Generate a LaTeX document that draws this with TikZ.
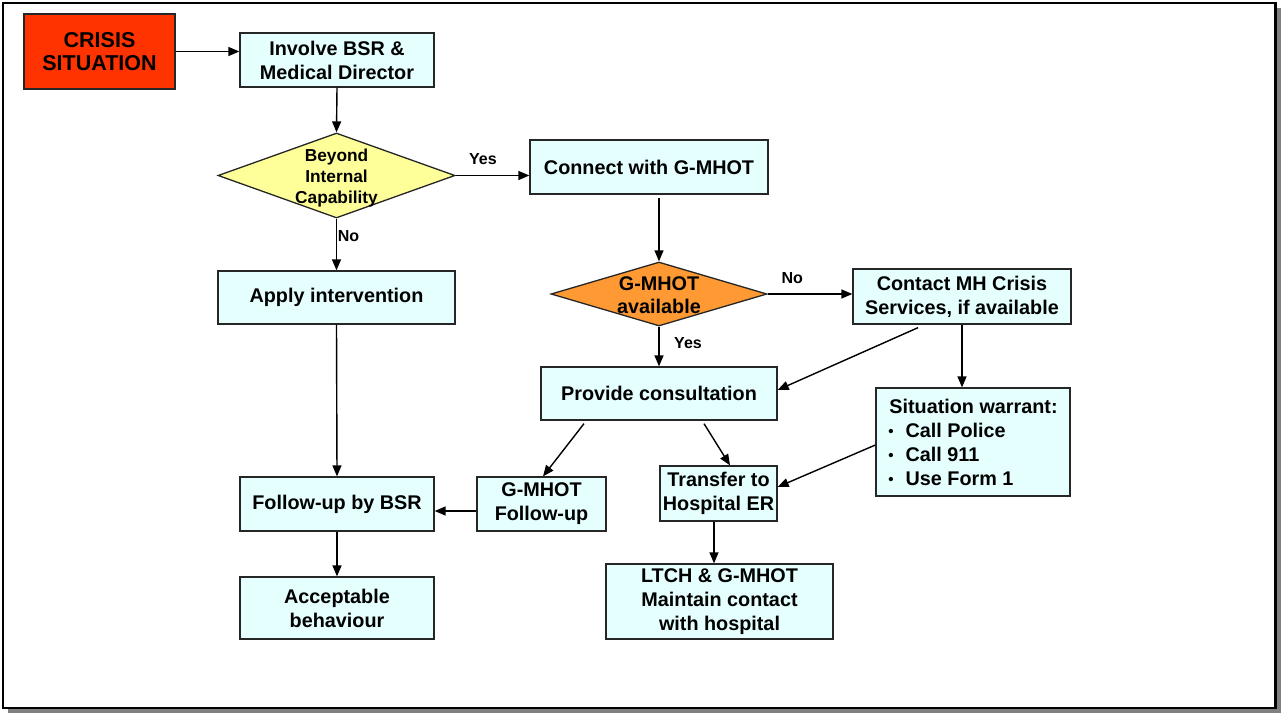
\documentclass[tikz,border=0pt]{standalone}
\usepackage{fontspec}
\setmainfont{Liberation Sans}
\usetikzlibrary{arrows.meta,shapes.geometric}
\definecolor{boxfill}{HTML}{E5FFFF}
\definecolor{crisisred}{HTML}{FF3300}
\definecolor{decyellow}{HTML}{FFFF99}
\definecolor{decorange}{HTML}{FF9933}
\definecolor{shadowgray}{HTML}{808080}
\tikzset{
  box/.style={rectangle, draw=black!85, line width=1.3pt, fill=boxfill, align=center, inner sep=0pt,
    font=\bfseries\fontsize{19.8}{24}\selectfont},
  decision/.style={diamond, draw=black!85, line width=1.3pt, inner sep=0pt},
  dtext/.style={align=center, inner sep=0pt},
  arr/.style={line width=1.4pt, -{Triangle[length=11pt,width=9pt]}},
  lbl/.style={font=\bfseries\fontsize{16}{18}\selectfont, inner sep=0pt}
}
\newcommand{\itembul}{\raisebox{0.5pt}{\fontsize{15}{15}\selectfont•}\hspace{12pt}}
\begin{document}
\begin{tikzpicture}[x=1pt,y=-1pt]
\useasboundingbox (0,0) rectangle (1281,713);
% page frame with drop shadow
\fill[shadowgray] (8,8) rectangle (1281,713);
\draw[line width=2.5pt, fill=white] (3,3) rectangle (1275.5,708);

% nodes
\node[box, fill=crisisred, minimum width=151pt, minimum height=75pt, font=\bfseries\fontsize{21.5}{23.5}\selectfont] (crisis) at (99.5,51.5) {CRISIS\\SITUATION};
\node[box, minimum width=194pt, minimum height=54pt] (involve) at (337,60) {Involve BSR \&\\Medical Director};
\node[decision, fill=decyellow, minimum width=237pt, minimum height=85pt] (beyond) at (336.5,175.5) {};
\node[dtext, font=\bfseries\fontsize{17.3}{21}\selectfont, yshift=-2.5pt] (beyondtext) at (beyond.center) {Beyond\\Internal\\Capability};
\node[box, minimum width=238pt, minimum height=54pt] (connect) at (649,167) {Connect with G-MHOT};
\node[box, minimum width=237pt, minimum height=53pt] (apply) at (336.5,297.5) {Apply intervention};
\node[decision, fill=decorange, minimum width=216pt, minimum height=64pt] (avail) at (659,294) {};
\node[dtext, font=\bfseries\fontsize{19.8}{23}\selectfont, yshift=-1.5pt] (availtext) at (avail.center) {G-MHOT\\available};
\node[box, minimum width=218pt, minimum height=55pt] (contact) at (962,296.5) {Contact MH Crisis\\Services, if available};
\node[box, minimum width=236pt, minimum height=53pt] (prov) at (659,393.5) {Provide consultation};
\node[box, minimum width=194pt, minimum height=108pt, align=left, font=\bfseries\fontsize{19.8}{24}\selectfont] (sit) at (973,442)
  {\hspace{1pt}Situation warrant:\\\itembul Call Police\\\itembul Call 911\\\itembul Use Form 1};
\node[box, minimum width=194pt, minimum height=54pt] (fub) at (337,504) {Follow-up by BSR};
\node[box, minimum width=129pt, minimum height=54pt] (gfu) at (541.5,504) {G-MHOT\\Follow-up};
\node[box, minimum width=117pt, minimum height=55pt] (trans) at (718.5,493.5) {Transfer to\\Hospital ER};
\node[box, minimum width=227pt, minimum height=75pt] (ltch) at (719.5,601.5) {LTCH \& G-MHOT\\Maintain contact\\with hospital};
\node[box, minimum width=194pt, minimum height=62pt] (accept) at (337,608) {Acceptable\\behaviour};

% connectors
\draw[arr] (crisis.east) -- (involve.west |- crisis.east);
\draw[arr] (involve.south) -- (beyond.north);
\draw[arr] (beyond.east) -- (connect.west |- beyond.east) node[lbl, pos=0.37, yshift=16pt] {Yes};
\draw[arr] (beyond.south) -- (apply.north) node[lbl, pos=0.34, xshift=12pt] {No};
\draw[arr] ([xshift=10pt,yshift=-3pt]connect.south) -- (avail.north);
\draw[arr] (avail.east) -- (contact.west |- avail.east) node[lbl, pos=0.29, yshift=16pt] {No};
\draw[arr] (avail.south) -- (prov.north) node[lbl, pos=0.41, xshift=29pt] {Yes};
\draw[arr] ([xshift=-44pt,yshift=-3pt]contact.south) -- ([yshift=3.5pt]prov.east);
\draw[arr] (contact.south) -- ([xshift=-11pt]sit.north);
\draw[arr] (apply.south) -- (fub.north);
\draw[arr] ([xshift=-75pt,yshift=-3pt]prov.south) -- ([xshift=1.5pt]gfu.north);
\draw[arr] ([xshift=45pt,yshift=-3pt]prov.south) -- ([xshift=11.5pt]trans.north);
\draw[arr] ([yshift=-3pt]sit.west) -- ([yshift=6.5pt]trans.east);
\draw[arr] ([yshift=-7pt]gfu.west) -- ([yshift=-7pt]fub.east);
\draw[arr] (fub.south) -- (accept.north);
\draw[arr] ([xshift=-4.5pt]trans.south) -- ([xshift=-5.5pt]ltch.north);
\end{tikzpicture}
\end{document}
